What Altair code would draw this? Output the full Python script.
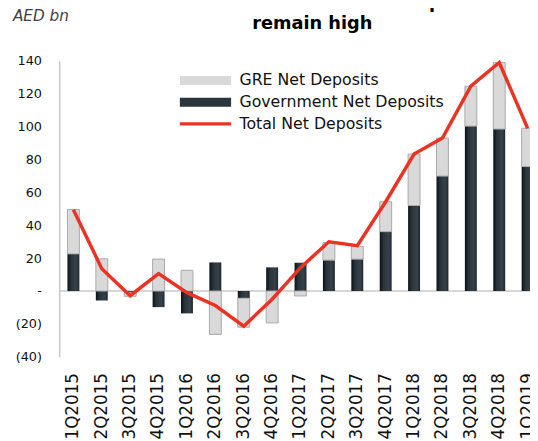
import altair as alt
import pandas as pd

quarters = ["1Q2015", "2Q2015", "3Q2015", "4Q2015", "1Q2016", "2Q2016", "3Q2016", "4Q2016",
            "1Q2017", "2Q2017", "3Q2017", "4Q2017", "1Q2018", "2Q2018", "3Q2018", "4Q2018", "1Q2019"]
gov = [22.6, -5.8, -0.8, -9.8, -13.6, 17.4, -4.4, 14.4, 17.2, 18.8, 19.4, 36.1, 52.0, 69.9, 100.3, 98.5, 75.7]
gre = [27.0, 19.6, -2.4, 19.4, 12.6, -26.4, -17.6, -19.4, -3.0, 10.7, 7.8, 18.2, 31.3, 23.1, 24.3, 40.5, 23.3]
total = [49.5, 13.6, -2.8, 10.6, -1.0, -8.8, -21.4, -5.0, 14.2, 30.0, 27.6, 54.3, 83.3, 93.0, 124.6, 139.0, 99.0]
series_names = ["GRE Net Deposits", "Government Net Deposits", "Total Net Deposits"]
title_lines = ["Government and GREs net deposits", "remain high"]
unit_label = ["AED bn"]
y_ticks = [-40, -20, 0, 20, 40, 60, 80, 100, 120, 140]

FONT = "DejaVu Sans"
RED = "#ea3323"
GOV = "Government Net Deposits"

rows = []
for q, g, r in zip(quarters, gov, gre):
    rows.append({"quarter": q, "series": GOV, "value": g, "ord": 0})
    rows.append({"quarter": q, "series": "GRE Net Deposits", "value": r, "ord": 1})
bars_df = pd.DataFrame(rows)
line_df = pd.DataFrame({"quarter": quarters, "total": total})
legend_df = pd.DataFrame({"series": series_names})

x_scale = alt.Scale(domain=quarters, range=[0, 490], paddingInner=0.58, paddingOuter=0.29)
y_scale = alt.Scale(domain=[-40, 140], nice=False)

x_axis = alt.Axis(title=None, domain=False, ticks=False, tickSize=0, labelAngle=-90,
                  labelAlign="right", labelBaseline="middle", labelPadding=16,
                  labelFont=FONT, labelFontSize=17, labelColor="#111", grid=False)
y_axis = alt.Axis(title=None, values=y_ticks, grid=False, ticks=False, tickSize=0,
                  domainColor="#c8c8c8", domainWidth=1.5, labelPadding=18,
                  labelFont=FONT, labelFontSize=13, labelColor="#111",
                  labelExpr="datum.value == 0 ? '-' : (datum.value < 0 ? '(' + format(-datum.value, 'd') + ')' : format(datum.value, 'd'))")

gov_grad = alt.LinearGradient(gradient="linear", x1=0, x2=1, y1=0, y2=0, stops=[
    alt.GradientStop(offset=0, color="#0b1014"),
    alt.GradientStop(offset=0.3, color="#29333b"),
    alt.GradientStop(offset=0.75, color="#36424b"),
    alt.GradientStop(offset=1, color="#1e262c"),
])

zero = alt.Chart(pd.DataFrame({"v": [0]})).mark_rule(color="#c8c8c8", strokeWidth=1.5).encode(
    y=alt.Y("v:Q", scale=y_scale, axis=y_axis),
    x=alt.value(0), x2=alt.value(490),
)

bars = alt.Chart(bars_df).mark_bar(strokeWidth=1).encode(
    x=alt.X("quarter:N", scale=x_scale, sort=quarters, axis=x_axis),
    y=alt.Y("value:Q", stack="zero", scale=y_scale, axis=y_axis),
    detail="series:N",
    order=alt.Order("ord:Q", sort="ascending"),
    fill=alt.condition(f"datum.series == '{GOV}'", alt.value(gov_grad), alt.value("#d9d9d9")),
    stroke=alt.condition(f"datum.series == '{GOV}'", alt.value("transparent"), alt.value("#a9a9a9")),
)

line = alt.Chart(line_df).mark_line(color=RED, strokeWidth=3.5).encode(
    x=alt.X("quarter:N", scale=x_scale, sort=quarters, axis=x_axis),
    y=alt.Y("total:Q", scale=y_scale, axis=y_axis),
)

bar_path = "M-5.78,-1H5.78V1H-5.78Z"
line_path = "M-5.78,-0.36H5.78V0.36H-5.78Z"
leg = alt.Legend(title=None, orient="none", legendX=140.5, legendY=12, symbolSize=81,
                 labelFont=FONT, labelFontSize=16, labelColor="#111", labelOffset=26.5,
                 labelLimit=400, rowPadding=6, padding=0, symbolStrokeWidth=0)
legend_layer = alt.Chart(legend_df).transform_filter("false").mark_point(filled=True, opacity=1).encode(
    color=alt.Color("series:N", scale=alt.Scale(domain=series_names, range=["#d9d9d9", "#2b353d", RED]), legend=leg),
    shape=alt.Shape("series:N", scale=alt.Scale(domain=series_names, range=[bar_path, bar_path, line_path]), legend=leg),
)

aed = alt.Chart(pd.DataFrame({"t": unit_label})).mark_text(
    align="left", baseline="alphabetic", font=FONT, fontSize=15.5, fontStyle="italic", color="#404040"
).encode(x=alt.value(-47), y=alt.value(-40.3), text="t:N")

title1 = alt.Chart(pd.DataFrame({"t": title_lines[:1]})).mark_text(
    align="center", baseline="alphabetic", font=FONT, fontSize=18, fontWeight="bold", color="#000"
).encode(x=alt.value(257), y=alt.value(-53.8), text="t:N")
title2 = alt.Chart(pd.DataFrame({"t": title_lines[1:]})).mark_text(
    align="center", baseline="alphabetic", font=FONT, fontSize=18, fontWeight="bold", color="#000"
).encode(x=alt.value(257), y=alt.value(-32.8), text="t:N")

chart = alt.layer(zero, bars, line, legend_layer, aed, title1, title2).properties(
    width=478, height=300.5,
    autosize=alt.AutoSizeParams(type="none"),
    padding={"left": 52, "top": 50.3, "right": 0, "bottom": 85},
).configure_view(stroke=None)

chart.save("out.html", embed_options={"renderer": "svg", "actions": False})
